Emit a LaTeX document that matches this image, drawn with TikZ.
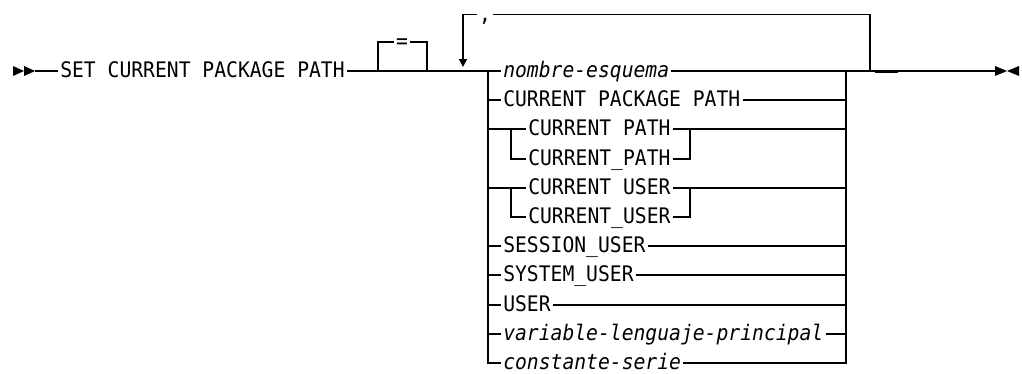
\documentclass[tikz,border=0pt]{standalone}
\usepackage{fontspec}
\newfontfamily\rrfont{DejaVu Sans Mono}[FakeStretch=0.92, ItalicFont={DejaVu Sans Mono Oblique}]
\usetikzlibrary{arrows.meta}

\begin{document}
\begin{tikzpicture}[
    x=1pt, y=-1pt, line width=1.5pt,
    kw/.style={font=\rrfont\fontsize{21.4}{26}\selectfont, inner xsep=1.5pt, inner ysep=0pt, text height=13pt, text depth=0pt, anchor=west},
    vr/.style={kw, font=\rrfont\itshape\fontsize{21.4}{26}\selectfont},
    dn/.style={-{Triangle[width=8pt, length=8pt]}},
]
    \useasboundingbox (0,0) rectangle (1022,373);
    \fill (13,66) -- (24,71) -- (13,76) -- cycle (24,66) -- (35,71) -- (24,76) -- cycle;
    \fill (995,66) -- (1007,71) -- (995,76) -- cycle (1019,66) -- (1007,71) -- (1019,76) -- cycle;
    \coordinate (start) at (35,71);
    \coordinate (stop) at (995,71);
    \coordinate (eqL) at (378,71);
    \coordinate (eqR) at (427,71);
    \coordinate (rpL) at (463,67);
    \coordinate (rpR) at (870,71);
    \coordinate (chL) at (488,71);
    \coordinate (chR) at (846,71);
    \coordinate (sbL) at (511,71);
    \coordinate (sbR) at (690,71);
    \node[kw] (set) at (58,71) {SET CURRENT PACKAGE PATH};
    \node[kw, anchor=center] (eq) at (402,42) {=};
    \node[kw, anchor=center] (comma) at (485,14.5) {,};
    \node[vr] (nom) at (501,71) {nombre-esquema};
    \node[kw] (cpp) at (501,100) {CURRENT PACKAGE PATH};
    \node[kw] (cp1) at (526,129) {CURRENT PATH};
    \node[kw] (cp2) at (526,159) {CURRENT\_PATH};
    \node[kw] (cu1) at (526,188) {CURRENT USER};
    \node[kw] (cu2) at (526,217) {CURRENT\_USER};
    \node[kw] (ses) at (501,246) {SESSION\_USER};
    \node[kw] (sys) at (501,275) {SYSTEM\_USER};
    \node[kw] (usr) at (501,305) {USER};
    \node[vr] (var) at (501,334) {variable-lenguaje-principal};
    \node[vr] (cte) at (501,363) {constante-serie};
    \draw (start) -- (set.west); \draw (set.east) -- (eqL) -- (eqR) -- (chL) -- (nom.west);
    \draw (eqL) |- (eq.west); \draw (eq.east) -| (eqR);
    \draw[dn] (comma.west) -| (rpL); \draw (comma.east) -| (rpR);
    \draw (nom.east) -- (chR) -- (rpR) -- (stop);
    \draw[line width=3pt] ([xshift=5pt]rpR) -- ([xshift=28pt]rpR);
    \draw (chL) |- (cte.west); \draw (chR) |- (cte.east);
    \draw (chL |- cpp.west) -- (cpp.west); \draw (cpp.east) -- (chR |- cpp.east);
    \draw (chL |- cp1.west) -- (cp1.west); \draw (cp1.east) -- (chR |- cp1.east);
    \draw (sbL |- cp1.west) |- (cp2.west); \draw (cp2.east) -| (sbR |- cp1.east);
    \draw (chL |- cu1.west) -- (cu1.west); \draw (cu1.east) -- (chR |- cu1.east);
    \draw (sbL |- cu1.west) |- (cu2.west); \draw (cu2.east) -| (sbR |- cu1.east);
    \draw (chL |- ses.west) -- (ses.west); \draw (ses.east) -- (chR |- ses.east);
    \draw (chL |- sys.west) -- (sys.west); \draw (sys.east) -- (chR |- sys.east);
    \draw (chL |- usr.west) -- (usr.west); \draw (usr.east) -- (chR |- usr.east);
    \draw (chL |- var.west) -- (var.west); \draw (var.east) -- (chR |- var.east);
\end{tikzpicture}
\end{document}
